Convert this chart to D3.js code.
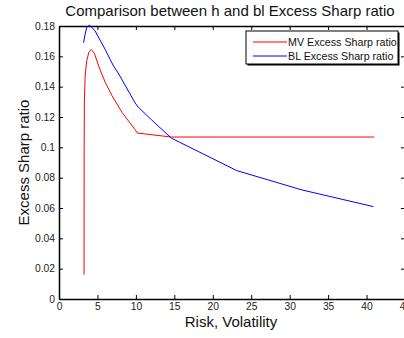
<!DOCTYPE html>
<html>
<head>
<meta charset="utf-8">
<script src="https://cdn.jsdelivr.net/npm/d3@7"></script>
<style>
  body { margin: 0; background: #fff; }
  svg { display: block; font-family: "Liberation Sans", Arial, sans-serif; }
</style>
</head>
<body>
<div id="chart"></div>
<script>
// risk (volatility) vs excess sharp ratio
var mvRisk   = [3.26, 3.27, 3.3, 3.4, 3.6, 3.9, 4.2, 4.6, 5.2, 6.0, 6.9, 8.2, 9.9, 10.2, 14.6, 41.0];
var mvSharp  = [0.016, 0.10, 0.13, 0.147, 0.157, 0.163, 0.1645, 0.162, 0.153, 0.143, 0.134, 0.123, 0.1116, 0.1094, 0.1068, 0.1068];
var blRisk   = [3.2, 3.35, 3.6, 3.95, 4.3, 4.7, 6.0, 7.1, 7.7, 9.9, 10.3, 12.0, 14.6, 23.1, 31.6, 40.9];
var blSharp  = [0.169, 0.1735, 0.179, 0.1805, 0.179, 0.1767, 0.1646, 0.1535, 0.149, 0.1293, 0.1265, 0.1183, 0.1061, 0.0847, 0.0719, 0.0609];
var xTicks = [0, 5, 10, 15, 20, 25, 30, 35, 40, 45];
var yTicks = [0, 0.02, 0.04, 0.06, 0.08, 0.1, 0.12, 0.14, 0.16, 0.18];
var seriesNames = ["MV Excess Sharp ratio", "BL Excess Sharp ratio"];
var seriesColors = ["#ff0000", "#0000ff"];

var width = 404, height = 338;
var margin = {top: 26, right: -1, bottom: 39, left: 59};
var w = width - margin.left - margin.right,
    h = height - margin.top - margin.bottom;

var svg = d3.select("#chart").append("svg")
  .attr("width", width)
  .attr("height", height);

var g = svg.append("g")
  .attr("transform", "translate(" + margin.left + "," + margin.top + ")");

var x = d3.scaleLinear().domain([0, 45]).range([0, w]);
var y = d3.scaleLinear().domain([0, 0.18]).range([h, 0]);

// axes, matlab style: ticks pointing inward
var fmt = function(d) { return d3.format("~g")(d); };
var xAxisBottom = g.append("g").attr("transform", "translate(0," + h + ")")
  .call(d3.axisBottom(x).tickValues(xTicks).tickSizeInner(-4).tickSizeOuter(0).tickPadding(4));
var yAxisLeft = g.append("g")
  .call(d3.axisLeft(y).tickValues(yTicks).tickFormat(fmt).tickSizeInner(-4).tickSizeOuter(0).tickPadding(4));
var xAxisTop = g.append("g")
  .call(d3.axisTop(x).tickValues(xTicks).tickSizeInner(-4).tickSizeOuter(0).tickFormat(""));
var yAxisRight = g.append("g").attr("transform", "translate(" + w + ",0)")
  .call(d3.axisRight(y).tickValues(yTicks).tickSizeInner(-4).tickSizeOuter(0).tickFormat(""));

[xAxisBottom, yAxisLeft, xAxisTop, yAxisRight].forEach(function(a) {
  a.select(".domain").attr("stroke", "#000").attr("stroke-width", 1.5);
  a.selectAll(".tick line").attr("stroke", "#000");
  a.selectAll("text").attr("fill", "#222").style("font-size", "10.3px");
});

// lines
var line = d3.line()
  .x(function(d) { return x(d[0]); })
  .y(function(d) { return y(d[1]); });

var mvData = mvRisk.map(function(r, i) { return [r, mvSharp[i]]; });
var blData = blRisk.map(function(r, i) { return [r, blSharp[i]]; });

g.append("path").datum(mvData)
  .attr("d", line).attr("fill", "none")
  .attr("stroke", seriesColors[0]).attr("stroke-width", 1);
g.append("path").datum(blData)
  .attr("d", line).attr("fill", "none")
  .attr("stroke", seriesColors[1]).attr("stroke-width", 1);

// title and labels
svg.append("text")
  .attr("x", 230).attr("y", 16)
  .attr("text-anchor", "middle")
  .style("font-size", "15px").attr("fill", "#111")
  .text("Comparison between h and bl Excess Sharp ratio");

svg.append("text")
  .attr("x", 231).attr("y", 327)
  .attr("text-anchor", "middle")
  .style("font-size", "15px").attr("fill", "#111")
  .text("Risk, Volatility");

svg.append("text")
  .attr("transform", "translate(29," + (margin.top + h / 2) + ")rotate(-90)")
  .attr("text-anchor", "middle")
  .style("font-size", "15px").attr("fill", "#111")
  .text("Excess Sharp ratio");

// legend
var lg = svg.append("g").attr("transform", "translate(246,31)");
lg.append("rect").attr("x", 1.5).attr("y", 1.5).attr("width", 152).attr("height", 33)
  .attr("fill", "#000");
lg.append("rect").attr("width", 152).attr("height", 33)
  .attr("fill", "#fff").attr("stroke", "#000").attr("stroke-width", 1);
seriesNames.forEach(function(name, i) {
  var row = lg.append("g").attr("transform", "translate(0," + (11 + i * 14) + ")");
  row.append("line").attr("x1", 7).attr("x2", 41).attr("y1", 0).attr("y2", 0)
    .attr("stroke", seriesColors[i]);
  row.append("text").attr("x", 42).attr("y", 3.7)
    .style("font-size", "10.7px").attr("fill", "#111")
    .text(name);
});
</script>
</body>
</html>
